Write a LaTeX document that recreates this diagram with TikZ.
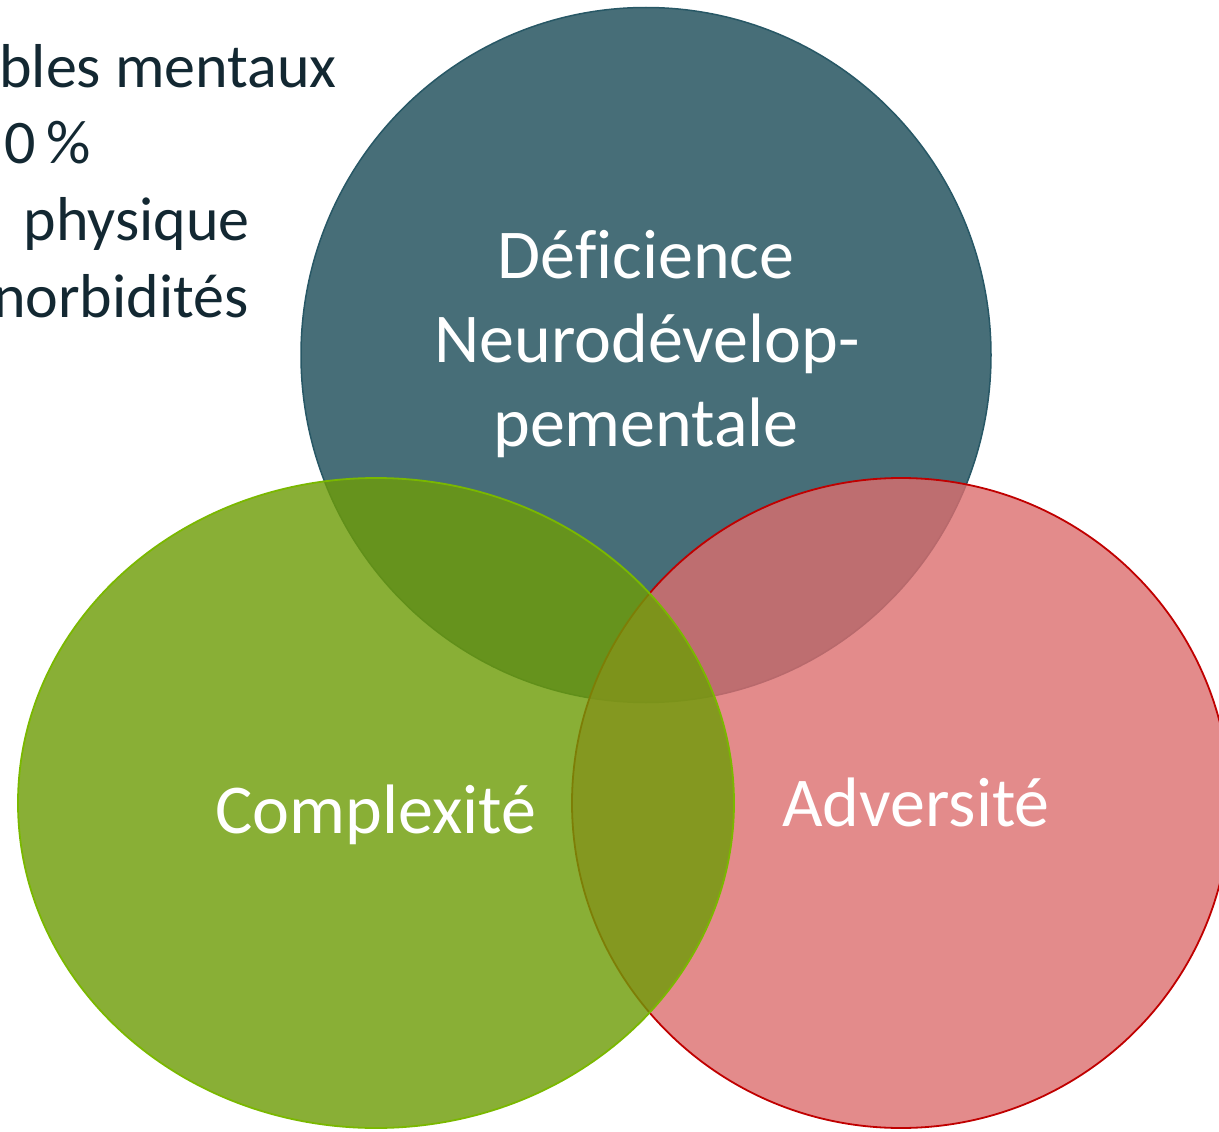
\documentclass[tikz,border=0pt]{standalone}
\usepackage{fontspec}
\setmainfont{Carlito}[Ligatures=NoCommon]
\usetikzlibrary{shapes.geometric}
\definecolor{tealfill}{RGB}{71,110,120}
\definecolor{tealline}{RGB}{40,88,102}
\definecolor{greenfill}{RGB}{110,156,8}
\definecolor{greenline}{RGB}{122,184,0}
\definecolor{redfill}{RGB}{220,110,110}
\definecolor{redline}{RGB}{192,0,0}
\definecolor{darktext}{RGB}{19,40,50}
\tikzset{
  blob/.style={ellipse, inner sep=0pt, outer sep=0pt},
  bigtext/.style={text=white, font=\fontsize{70}{84}\selectfont, align=center, inner sep=0pt},
  listtext/.style={text=darktext, font=\fontsize{62}{74}\selectfont, anchor=base east, inner sep=0pt}
}
\begin{document}
\begin{tikzpicture}[x=1pt,y=-1pt]
\useasboundingbox (0,0) rectangle (1219,1132);
% left list (clipped by the slide edge)
\node[listtext] (l1) at (337,88) {bles mentaux};
\node[listtext] (l2) at (91,163) {0\,\%};
\node[listtext] (l3) at (250,240) {physique};
\node[listtext] (l4) at (249,317) {norbidités};
% circles
\node[blob, draw=tealline, line width=1.5pt, fill=tealfill,
      minimum width=690pt, minimum height=695pt] (top) at (646,355) {};
\node[blob, draw=redline, line width=1.8pt, fill=redfill, fill opacity=0.8,
      minimum width=658pt, minimum height=650pt] (right) at (901,803) {};
\node[blob, draw=greenline, line width=1.8pt, fill=greenfill, fill opacity=0.81,
      minimum width=716pt, minimum height=650pt] (left) at (376,803) {};
% labels
\node[bigtext, anchor=base] (t1) at (646,278) {Déficience};
\node[bigtext, anchor=base] (t2) at (647,362) {Neurodévelop-};
\node[bigtext, anchor=base] (t3) at (646,446) {pementale};
\node[bigtext, anchor=base] (tc) at (376,833) {Complexité};
\node[bigtext, anchor=base] (ta) at (916,826) {Adversité};
\end{tikzpicture}
\end{document}
